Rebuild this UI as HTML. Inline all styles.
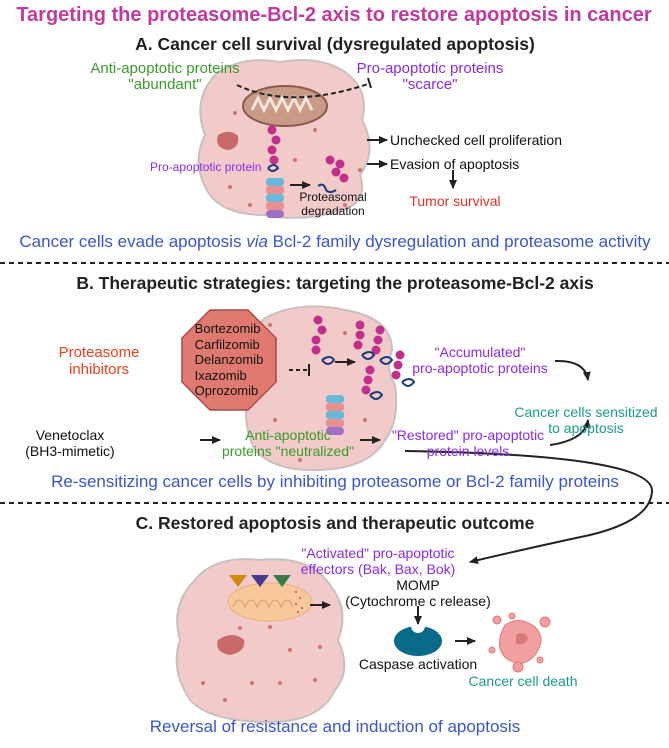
<!DOCTYPE html>
<html><head><meta charset="utf-8"><style>
body{margin:0;background:#fff}
#w{position:relative;width:669px;height:748px;overflow:hidden;font-family:"Liberation Sans",sans-serif}
.t{position:absolute;white-space:nowrap;text-align:center;line-height:16px;font-size:14px}
.c{transform:translateX(-50%)}
.b{font-weight:bold;color:#222;font-size:17.5px}
.bl{color:#3a56c8;font-size:17px}
.g{color:#3a9a2a}.p{color:#8a2be2}.r{color:#e0302a}.tl{color:#1a9a8a}.k{color:#111}
</style></head><body><div id="w">
<svg width="669" height="748" style="position:absolute;left:0;top:0">
<defs><marker id="a" markerUnits="userSpaceOnUse" markerWidth="10" markerHeight="10" refX="8" refY="5" orient="auto"><path d="M0,1L9,5L0,9z" fill="#222"/></marker></defs>
<g fill="#f2caca" stroke="#c8c0c0" stroke-width="2">
<path d="M215,75 Q240,55 280,62 Q320,55 345,72 Q370,90 362,120 Q378,150 360,175 Q370,205 335,212 Q300,222 265,215 Q225,215 210,195 Q190,165 205,135 Q192,100 215,75z"/>
<path d="M265,318 Q300,300 345,310 Q392,318 392,350 Q385,370 395,385 Q400,420 385,440 Q370,468 320,470 Q275,472 255,450 Q240,420 250,390 Q238,345 265,318z"/>
<path d="M195,580 Q215,555 260,560 Q310,555 330,585 Q350,610 338,640 Q352,670 335,690 Q320,722 270,722 Q210,722 190,700 Q170,670 180,640 Q170,605 195,580z"/>
</g>
<ellipse cx="285" cy="106" rx="42" ry="20" fill="#c89a88" stroke="#8a5a4a" stroke-width="2"/>
<path d="M252,110 l6,-12 l6,12 l6,-12 l6,12 l6,-12 l6,12 l6,-12 l6,12 l6,-12 l6,12" fill="none" stroke="#f5e4dc" stroke-width="3"/>
<path d="M218,135 Q230,128 238,136 Q240,148 228,150 Q214,148 218,135z" fill="#c86a6a"/>
<path d="M218,640 Q233,630 244,640 Q246,652 230,655 Q214,652 218,640z" fill="#c86a6a"/>
<g fill="#6ab8d8"><rect x="266" y="178" width="18" height="8" rx="3"/><rect x="266" y="194" width="18" height="8" rx="3"/><rect x="326" y="395" width="18" height="8" rx="3"/><rect x="326" y="411" width="18" height="8" rx="3"/></g>
<g fill="#e89090"><rect x="266" y="186" width="18" height="8" rx="3"/><rect x="266" y="202" width="18" height="8" rx="3"/><rect x="326" y="403" width="18" height="8" rx="3"/><rect x="326" y="419" width="18" height="8" rx="3"/></g>
<g fill="#a070c8"><rect x="266" y="210" width="18" height="8" rx="4"/><rect x="326" y="427" width="18" height="8" rx="4"/></g>
<g fill="#c0308a"><circle cx="272" cy="130" r="4.5"/><circle cx="276" cy="140" r="4.5"/><circle cx="272" cy="150" r="4.5"/><circle cx="274" cy="160" r="4.5"/><circle cx="330" cy="160" r="4.5"/><circle cx="340" cy="164" r="4.5"/><circle cx="336" cy="172" r="4.5"/><circle cx="344" cy="178" r="4.5"/>
<circle cx="318" cy="320" r="4.5"/><circle cx="322" cy="330" r="4.5"/><circle cx="316" cy="340" r="4.5"/><circle cx="316" cy="350" r="4.5"/><circle cx="360" cy="325" r="4.5"/><circle cx="360" cy="335" r="4.5"/><circle cx="358" cy="345" r="4.5"/><circle cx="380" cy="330" r="4.5"/><circle cx="378" cy="340" r="4.5"/><circle cx="376" cy="350" r="4.5"/><circle cx="370" cy="370" r="4.5"/><circle cx="368" cy="380" r="4.5"/><circle cx="366" cy="390" r="4.5"/><circle cx="400" cy="355" r="4.5"/><circle cx="398" cy="365" r="4.5"/><circle cx="396" cy="375" r="4.5"/></g>
<g stroke="#1a3a7a" stroke-width="2" fill="none"><path d="M268,168 q6,-6 10,0 q-6,6 -10,0"/><path d="M322,360 q8,-6 12,0 q-6,8 -12,0"/><path d="M362,355 q8,-6 12,0 q-6,8 -12,0"/><path d="M380,360 q8,-6 12,0 q-6,8 -12,0"/><path d="M370,395 q8,-6 12,0 q-6,8 -12,0"/><path d="M402,382 q8,-6 12,0 q-6,8 -12,0"/><path d="M318,186 q6,-4 8,4 q4,4 10,0"/></g>
<g fill="#d07070"><circle cx="235" cy="113" r="2"/><circle cx="315" cy="130" r="2"/><circle cx="360" cy="170" r="2"/><circle cx="230" cy="187" r="2"/><circle cx="250" cy="205" r="2"/><circle cx="345" cy="205" r="2"/><circle cx="295" cy="160" r="2"/><circle cx="270" cy="325" r="2"/><circle cx="345" cy="333" r="2"/><circle cx="275" cy="420" r="2"/><circle cx="365" cy="420" r="2"/><circle cx="300" cy="460" r="2"/><circle cx="240" cy="628" r="2"/><circle cx="270" cy="627" r="2"/><circle cx="290" cy="650" r="2"/><circle cx="320" cy="647" r="2"/><circle cx="203" cy="683" r="2"/><circle cx="252" cy="683" r="2"/><circle cx="280" cy="683" r="2"/><circle cx="315" cy="680" r="2"/><circle cx="225" cy="700" r="2"/></g>
<ellipse cx="270" cy="602" rx="42" ry="19" fill="#f8c89a" stroke="#e8b07a"/>
<path d="M233,607 q6,-14 12,0 q6,-14 12,0 q6,-14 12,0 q6,-14 12,0 q6,-14 12,0" fill="none" stroke="#d89a6a"/>
<path d="M229,575 h18 l-9,12z" fill="#d08a10"/><path d="M251,575 h18 l-9,12z" fill="#4a3a8a"/><path d="M273,575 h18 l-9,12z" fill="#3a7a4a"/>
<g fill="#c04090"><circle cx="296" cy="592" r="1"/><circle cx="300" cy="598" r="1"/><circle cx="296" cy="604" r="1"/><circle cx="302" cy="608" r="1"/><circle cx="298" cy="612" r="1"/></g>
<polygon points="210,310 248,310 276,338 276,382 248,410 210,410 182,382 182,338" fill="#e07a70" stroke="#a84a44" stroke-width="1.5"/>
<ellipse cx="418" cy="641" rx="24" ry="15" fill="#0a6a8a"/><circle cx="418" cy="626" r="7" fill="#fff"/>
<g fill="#f0a0a0" stroke="#e07a7a"><path d="M505,625 q15,-10 30,2 q12,12 0,28 q-12,14 -28,4 q-14,-12 -2,-34z"/><circle cx="497" cy="620" r="4"/><circle cx="545" cy="622" r="5"/><circle cx="492" cy="650" r="3"/><circle cx="518" cy="667" r="5"/><circle cx="540" cy="660" r="3"/><circle cx="512" cy="616" r="3"/></g>
<path d="M516,635 q8,-5 12,3 q-2,8 -12,6z" fill="#d87a7a"/>
<g stroke="#222" stroke-width="2" fill="none">
<path d="M237,85 Q290,110 368,84" stroke-dasharray="5,3"/><path d="M368,78 l3,10"/>
<path d="M367,140 h20" marker-end="url(#a)"/><path d="M367,164 h20" marker-end="url(#a)"/><path d="M453,170 v18" marker-end="url(#a)"/>
<path d="M290,185 h20" marker-end="url(#a)"/>
<path d="M289,370 h20" stroke-dasharray="4,3"/><path d="M309,364 v12"/>
<path d="M335,362 h20" marker-end="url(#a)"/>
<path d="M200,440 h20" marker-end="url(#a)"/><path d="M360,440 h20" marker-end="url(#a)"/>
<path d="M555,361 Q585,360 588,380" marker-end="url(#a)"/><path d="M550,445 Q585,440 588,420" marker-end="url(#a)"/>
<path d="M405,451 Q650,455 652,490 Q652,520 590,535 Q520,550 470,562" marker-end="url(#a)"/>
<path d="M310,605 h20" marker-end="url(#a)"/><path d="M418,606 v18" marker-end="url(#a)"/><path d="M455,641 h20" marker-end="url(#a)"/>
</g>
<g stroke="#222" stroke-width="2" stroke-dasharray="5,4"><path d="M0,263 h669"/><path d="M0,503 h669"/></g>
</svg>
<div class="t c" style="left:334px;top:5px;font-size:20px;line-height:20px;font-weight:bold;color:#c03aa0">Targeting the proteasome-Bcl-2 axis to restore apoptosis in cancer</div>
<div class="t c b" style="left:335px;top:36px">A. Cancer cell survival (dysregulated apoptosis)</div>
<div class="t c g" style="left:165px;top:61px;font-size:15px">Anti-apoptotic proteins<br>"abundant"</div>
<div class="t c p" style="left:430px;top:61px;font-size:15px">Pro-apoptotic proteins<br>"scarce"</div>
<div class="t k" style="left:390px;top:132px">Unchecked cell proliferation</div>
<div class="t k" style="left:390px;top:156px">Evasion of apoptosis</div>
<div class="t c r" style="left:455px;top:193px">Tumor survival</div>
<div class="t p" style="left:150px;top:159px;font-size:12px">Pro-apoptotic protein</div>
<div class="t c k" style="left:333px;top:190px;font-size:12px;line-height:14px">Proteasomal<br>degradation</div>
<div class="t c bl" style="left:335px;top:234px">Cancer cells evade apoptosis <i>via</i> Bcl-2 family dysregulation and proteasome activity</div>
<div class="t c b" style="left:335px;top:275px">B. Therapeutic strategies: targeting the proteasome-Bcl-2 axis</div>
<div class="t c k" style="left:229px;top:321px;font-size:13px;line-height:15.5px;text-align:left">Bortezomib<br>Carfilzomib<br>Delanzomib<br>Ixazomib<br>Oprozomib</div>
<div class="t c" style="left:99px;top:344px;color:#f0401a;font-size:15px;line-height:17px">Proteasome<br>inhibitors</div>
<div class="t c p" style="left:480px;top:344px;font-size:14px">"Accumulated"<br>pro-apoptotic proteins</div>
<div class="t c tl" style="left:586px;top:404px;font-size:14px">Cancer cells sensitized<br>to apoptosis</div>
<div class="t c k" style="left:70px;top:427px">Venetoclax<br>(BH3-mimetic)</div>
<div class="t c g" style="left:288px;top:427px">Anti-apoptotic<br>proteins "neutralized"</div>
<div class="t c p" style="left:468px;top:427px">"Restored" pro-apoptotic<br>protein levels</div>
<div class="t c bl" style="left:335px;top:474px">Re-sensitizing cancer cells by inhibiting proteasome or Bcl-2 family proteins</div>
<div class="t c b" style="left:335px;top:515px">C. Restored apoptosis and therapeutic outcome</div>
<div class="t c p" style="left:378px;top:545px">"Activated" pro-apoptotic<br>effectors (Bak, Bax, Bok)</div>
<div class="t c k" style="left:418px;top:577px">MOMP<br>(Cytochrome c release)</div>
<div class="t c k" style="left:418px;top:656px">Caspase activation</div>
<div class="t c tl" style="left:523px;top:673px">Cancer cell death</div>
<div class="t c bl" style="left:335px;top:719px">Reversal of resistance and induction of apoptosis</div>
</div></body></html>
